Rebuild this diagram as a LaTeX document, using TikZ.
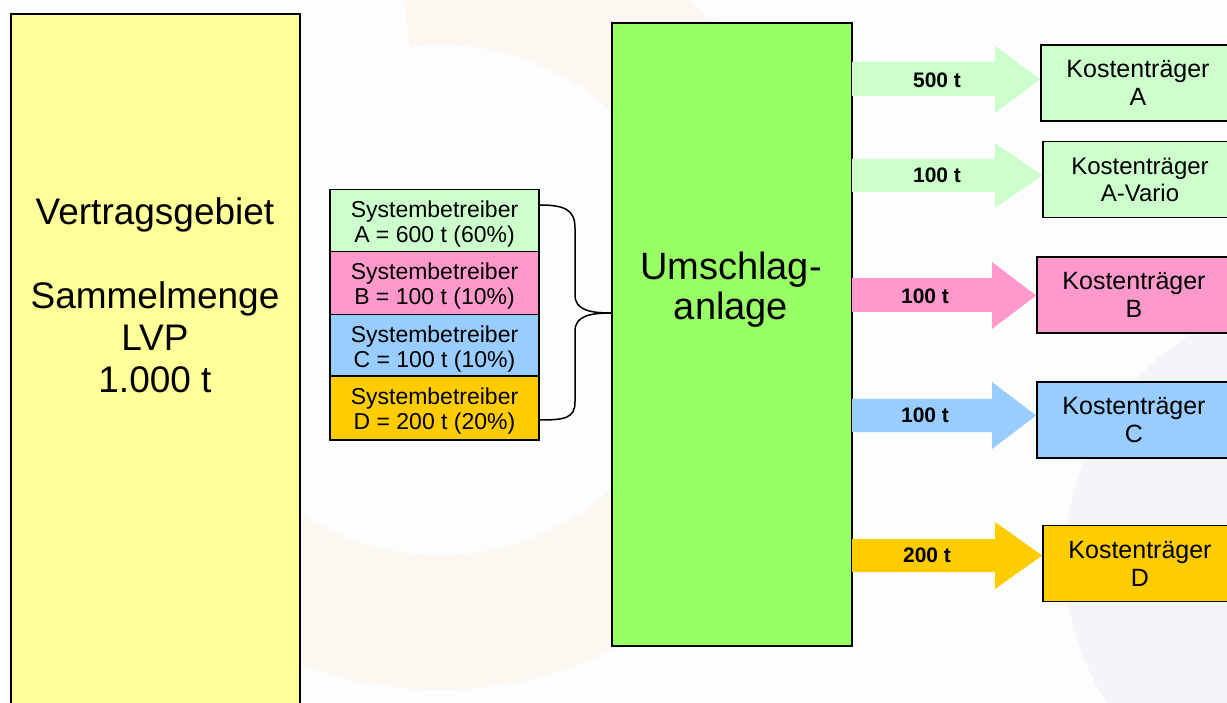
\documentclass[tikz,border=0pt]{standalone}
\usepackage{fontspec}
\setmainfont{Liberation Sans}
\definecolor{bgc}{HTML}{FCFDFD}
\definecolor{wmor}{HTML}{FDF7F2}
\definecolor{wmgr}{HTML}{F4F5F8}
\definecolor{cyel}{HTML}{FFFF99}
\definecolor{cgrn}{HTML}{99FF66}
\definecolor{clgr}{HTML}{CCFFCC}
\definecolor{cpnk}{HTML}{FF99CC}
\definecolor{cblu}{HTML}{99CCFF}
\definecolor{cgld}{HTML}{FFCC00}
\tikzset{
  box/.style={draw=black, line width=1.6pt, rectangle, inner sep=0pt},
  sysbox/.style={box, line width=1.3pt, minimum width=209pt, minimum height=62.5pt},
  systext/.style={align=center, inner sep=0pt, font=\fontsize{23pt}{25pt}\selectfont},
  ktbox/.style={box, minimum width=194pt, minimum height=76pt, align=center,
    font=\fontsize{25pt}{28pt}\selectfont},
  arrlabel/.style={font=\fontsize{21pt}{22pt}\selectfont\bfseries, inner sep=0pt},
  brace/.style={draw=black, line width=1.5pt},
}
\begin{document}
\begin{tikzpicture}[x=1pt,y=-1pt]
\useasboundingbox (0,0) rectangle (1227,703);
\fill[bgc] (0,0) rectangle (1227,703);
% faint watermark
\begin{scope}
\clip (0,0) rectangle (1227,703);
\fill[wmor, even odd rule] (440,300) circle (390) (440,300) circle (255);
\fill[bgc] (440,300) -- (380,-200) -- (-100,-100) -- (-100,80) -- cycle;
\fill[wmgr] (1330,560) circle (265);
\end{scope}
% main boxes
\node[box, fill=cyel, minimum width=289pt, minimum height=710pt, anchor=north west] (vg) at (10,13) {};
\node[align=center, font=\fontsize{37pt}{42pt}\selectfont] (vgt) at (155,295)
  {Vertragsgebiet\\[0pt]\mbox{}\\Sammelmenge\\LVP\\1.000 t};
\node[box, fill=cgrn, minimum width=240pt, minimum height=623pt, anchor=north west] (U) at (611,22) {};
\node[align=center, font=\fontsize{38pt}{40pt}\selectfont] (Ut) at (731,290) {Umschlag-\\anlage};
% Systembetreiber
\node[sysbox, fill=clgr] (sa) at (434.5,220.5) {};
\node[systext] (sat) at ([yshift=-3.5pt]sa.center) {Systembetreiber\\A = 600 t (60\%)};
\node[sysbox, fill=cpnk] (sb) at (434.5,283) {};
\node[systext] (sbt) at ([yshift=-3.5pt]sb.center) {Systembetreiber\\B = 100 t (10\%)};
\node[sysbox, fill=cblu] (sc) at (434.5,345.5) {};
\node[systext] (sct) at ([yshift=-3.5pt]sc.center) {Systembetreiber\\C = 100 t (10\%)};
\node[sysbox, fill=cgld] (sd) at (434.5,408) {};
\begin{scope}
\clip (sd.south west) rectangle (sd.north east);
\node[systext] (sdt) at ([yshift=-3.5pt]sd.center) {Systembetreiber\\D = 200 t (20\%)};
\end{scope}
\draw[line width=1.3pt] (sd.south west) rectangle (sd.north east);
% brace
\coordinate (bt) at (sa.east |- 0,205);
\coordinate (bb) at (sd.east |- 0,420);
\coordinate (bm) at (U.west |- 0,313);
\draw[brace] (bt) .. controls (565,205) and (575,210) .. (575,228) -- (575,295)
  .. controls (575,310) and (590,313) .. (bm)
  .. controls (590,313) and (575,316) .. (575,331) -- (575,402)
  .. controls (575,418) and (565,420) .. (bb);
% Kostentraeger
\node[ktbox, fill=clgr] (ka) at (1138,83) {Kostenträger\\A};
\node[ktbox, fill=clgr, font=\fontsize{24pt}{27pt}\selectfont] (kv) at (1140,179.5) {Kostenträger\\A-Vario};
\node[ktbox, fill=cpnk] (kb) at (1134,295) {Kostenträger\\B};
\node[ktbox, fill=cblu] (kc) at (1134,420) {Kostenträger\\C};
\node[ktbox, fill=cgld] (kd) at (1140,563.5) {Kostenträger\\D};
% arrows
\fill[clgr] (852,62) -- (995,62) -- (995,46) -- (ka.west |- 0,79.5) -- (995,113) -- (995,96) -- (852,96) -- cycle;
\fill[clgr] (852,159) -- (995,159) -- (995,143) -- (kv.west |- 0,175.5) -- (995,208) -- (995,192) -- (852,192) -- cycle;
\fill[cpnk] (852,278) -- (992,278) -- (992,262) -- (kb.west |- 0,295.5) -- (992,329) -- (992,312) -- (852,312) -- cycle;
\fill[cblu] (852,399) -- (992,399) -- (992,382) -- (kc.west |- 0,415.5) -- (992,449) -- (992,432) -- (852,432) -- cycle;
\fill[cgld] (852,539) -- (995,539) -- (995,522) -- (kd.west |- 0,555.5) -- (995,589) -- (995,572) -- (852,572) -- cycle;
\node[arrlabel] (la) at (937,80) {500 t};
\node[arrlabel] (lv) at (937,175) {100 t};
\node[arrlabel] (lb) at (925,296) {100 t};
\node[arrlabel] (lc) at (925,415) {100 t};
\node[arrlabel] (ld) at (927,555) {200 t};
\end{tikzpicture}
\end{document}
